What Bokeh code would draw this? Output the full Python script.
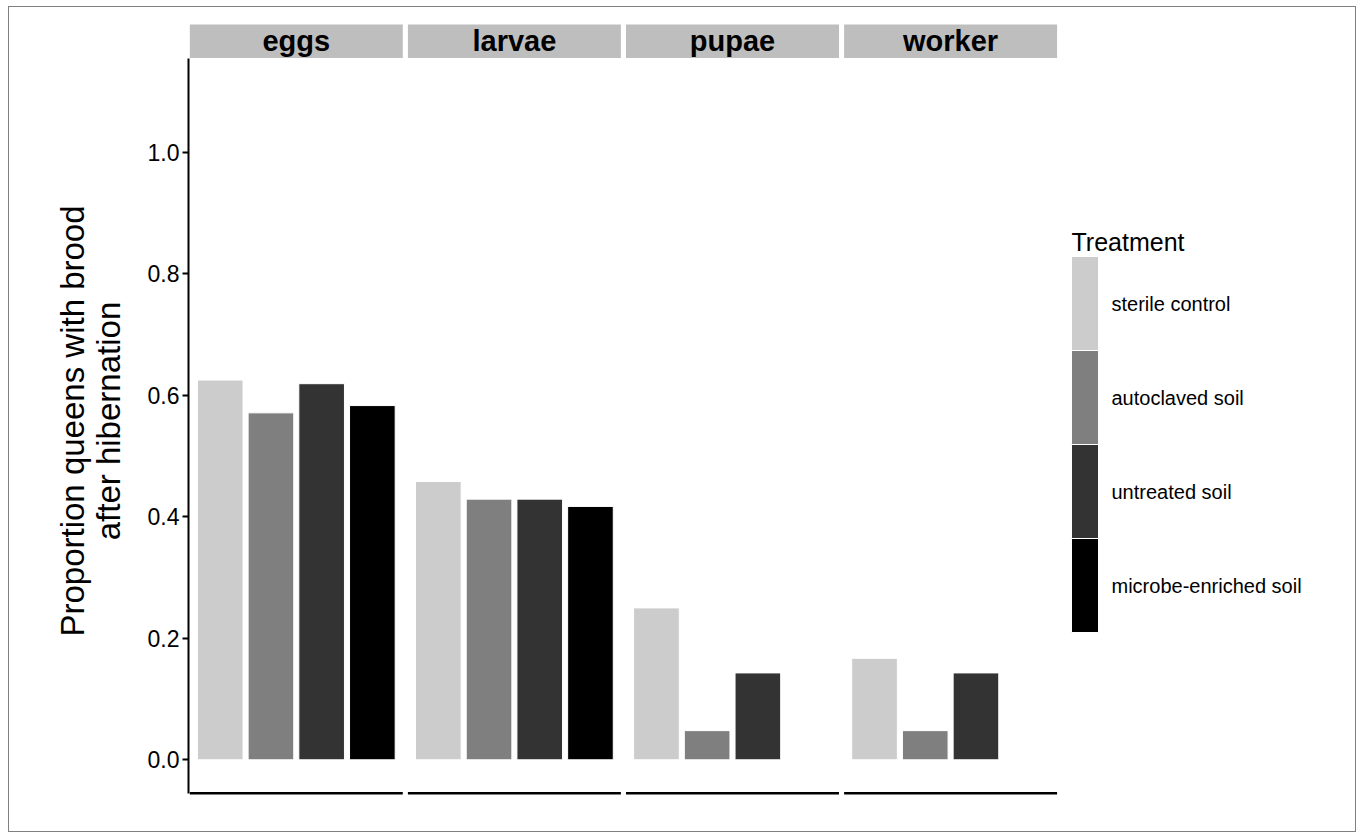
from bokeh.plotting import figure
from bokeh.models import (ColumnDataSource, Range1d, FixedTicker, PrintfTickFormatter,
                          InlineStyleSheet)
from bokeh.core.properties import value
from bokeh.embed import file_html
from bokeh.resources import INLINE

# ---------------- data ----------------
stages = ["eggs", "larvae", "pupae", "worker"]
treatments = ["sterile control", "autoclaved soil", "untreated soil", "microbe-enriched soil"]
colors = ["#CCCCCC", "#7F7F7F", "#333333", "#000000"]
eggs = [0.625, 0.571, 0.619, 0.583]
larvae = [0.458, 0.429, 0.429, 0.417]
pupae = [0.250, 0.048, 0.143, 0.0]
worker = [0.167, 0.048, 0.143, 0.0]
y_ticks = [0.0, 0.2, 0.4, 0.6, 0.8, 1.0]
y_label = "Proportion queens with brood\nafter hibernation"
legend_title = "Treatment"

# ---------------- layout constants (pixels) ----------------
W, H = 1346, 817
FL, FR, FT, FB = 188, 1340, 24, 817          # frame edges in canvas pixels
X0_PX, SX = 189.3, 50.71                     # x = 0.4 at X0_PX, px per unit
Y0_PX, SY = 759.3, 607.6                     # y = 0 at Y0_PX, px per unit
PANEL = 4.2            # 4 categories + 0.6 expansion on each side
GAP = 0.101            # gap between facet panels
STEP = PANEL + GAP
Y_LO, Y_HI = -0.055, 1.155
FONT = "Liberation Sans"


def dx(px):
    return 0.4 + (px - X0_PX) / SX


def dy(py):
    return (Y0_PX - py) / SY


series = [eggs, larvae, pupae, worker]
xs, tops, fills = [], [], []
for si, vals in enumerate(series):
    for ti, v in enumerate(vals):
        xs.append(si * STEP + ti + 1)
        tops.append(v)
        fills.append(colors[ti])
src = ColumnDataSource(dict(x=xs, top=tops, fill=fills))

p = figure(width=W, height=H, output_backend="svg", toolbar_location=None,
           x_axis_location=None,
           x_range=Range1d(dx(FL), dx(FR)), y_range=Range1d(dy(FB), dy(FT)),
           min_border_left=FL, min_border_right=W - FR,
           min_border_top=FT, min_border_bottom=H - FB)
p.outline_line_color = None
p.grid.grid_line_color = None
p.background_fill_color = "white"
p.border_fill_color = "white"
p.stylesheets = [InlineStyleSheet(css=(
    ":host { position: relative; }"
    ":host::after { content: ''; position: absolute; left: 8px; top: 6px; right: -10px; bottom: -15px;"
    " border: 1px solid #808080; pointer-events: none; }"))]

# y axis
ya = p.yaxis[0]
ya.bounds = (Y_LO, Y_HI)
ya.ticker = FixedTicker(ticks=y_ticks)
ya.formatter = PrintfTickFormatter(format="%.1f")
ya.axis_line_width = 2
ya.axis_line_color = "black"
ya.major_tick_line_width = 2
ya.major_tick_line_color = "black"
ya.major_tick_out = 6
ya.major_tick_in = 0
ya.minor_tick_out = 0
ya.minor_tick_in = 0
ya.major_label_text_font = FONT
ya.major_label_text_font_size = "23px"
ya.major_label_text_color = "black"
ya.major_label_standoff = 3
ya.axis_label = y_label
ya.axis_label_text_font = FONT
ya.axis_label_text_font_size = "33px"
ya.axis_label_text_font_style = "normal"
ya.axis_label_text_color = "black"
ya.axis_label_standoff = 18
ya.axis_label_text_line_height = 0.97

# facet strips
lefts = [si * STEP + 0.4 for si in range(len(stages))]
rights = [l + PANEL for l in lefts]
centers = [(l + r) / 2 for l, r in zip(lefts, rights)]
p.quad(left=lefts, right=rights, bottom=Y_HI, top=dy(0), fill_color="#BEBEBE", line_color=None)
p.text(x=centers, y=[(Y_HI + dy(FT)) / 2] * len(stages), text=stages,
       text_font=value(FONT), text_font_style="bold", text_font_size="29px",
       text_align="center", text_baseline="middle", text_color="black")

# per-panel x axis lines
p.segment(x0=lefts, x1=rights, y0=[Y_LO] * 4, y1=[Y_LO] * 4, line_color="black", line_width=2.5)

# bars
p.vbar(x="x", top="top", bottom=0, width=0.9, source=src,
       fill_color="fill", line_color="white", line_width=1)

# legend (drawn as keys + labels)
KEY_L, KEY_R, KEY_T, KEY_H = 1071, 1098, 256, 94
n = len(treatments)
key_tops = [dy(KEY_T + i * KEY_H) for i in range(n)]
key_bots = [dy(KEY_T + (i + 1) * KEY_H) for i in range(n)]
p.quad(left=[dx(KEY_L)] * n, right=[dx(KEY_R)] * n, top=key_tops, bottom=key_bots,
       fill_color=colors, line_color="white", line_width=1)
p.text(x=[dx(1111)] * n, y=[(a + b) / 2 for a, b in zip(key_tops, key_bots)], text=treatments,
       text_font=value(FONT), text_font_size="20px", text_align="left",
       text_baseline="middle", text_color="black")
p.text(x=[dx(1071)], y=[dy(241.5)], text=[legend_title],
       text_font=value(FONT), text_font_size="25px", text_align="left",
       text_baseline="alphabetic", text_color="black")

open("out.html", "w").write(file_html(p, INLINE))
